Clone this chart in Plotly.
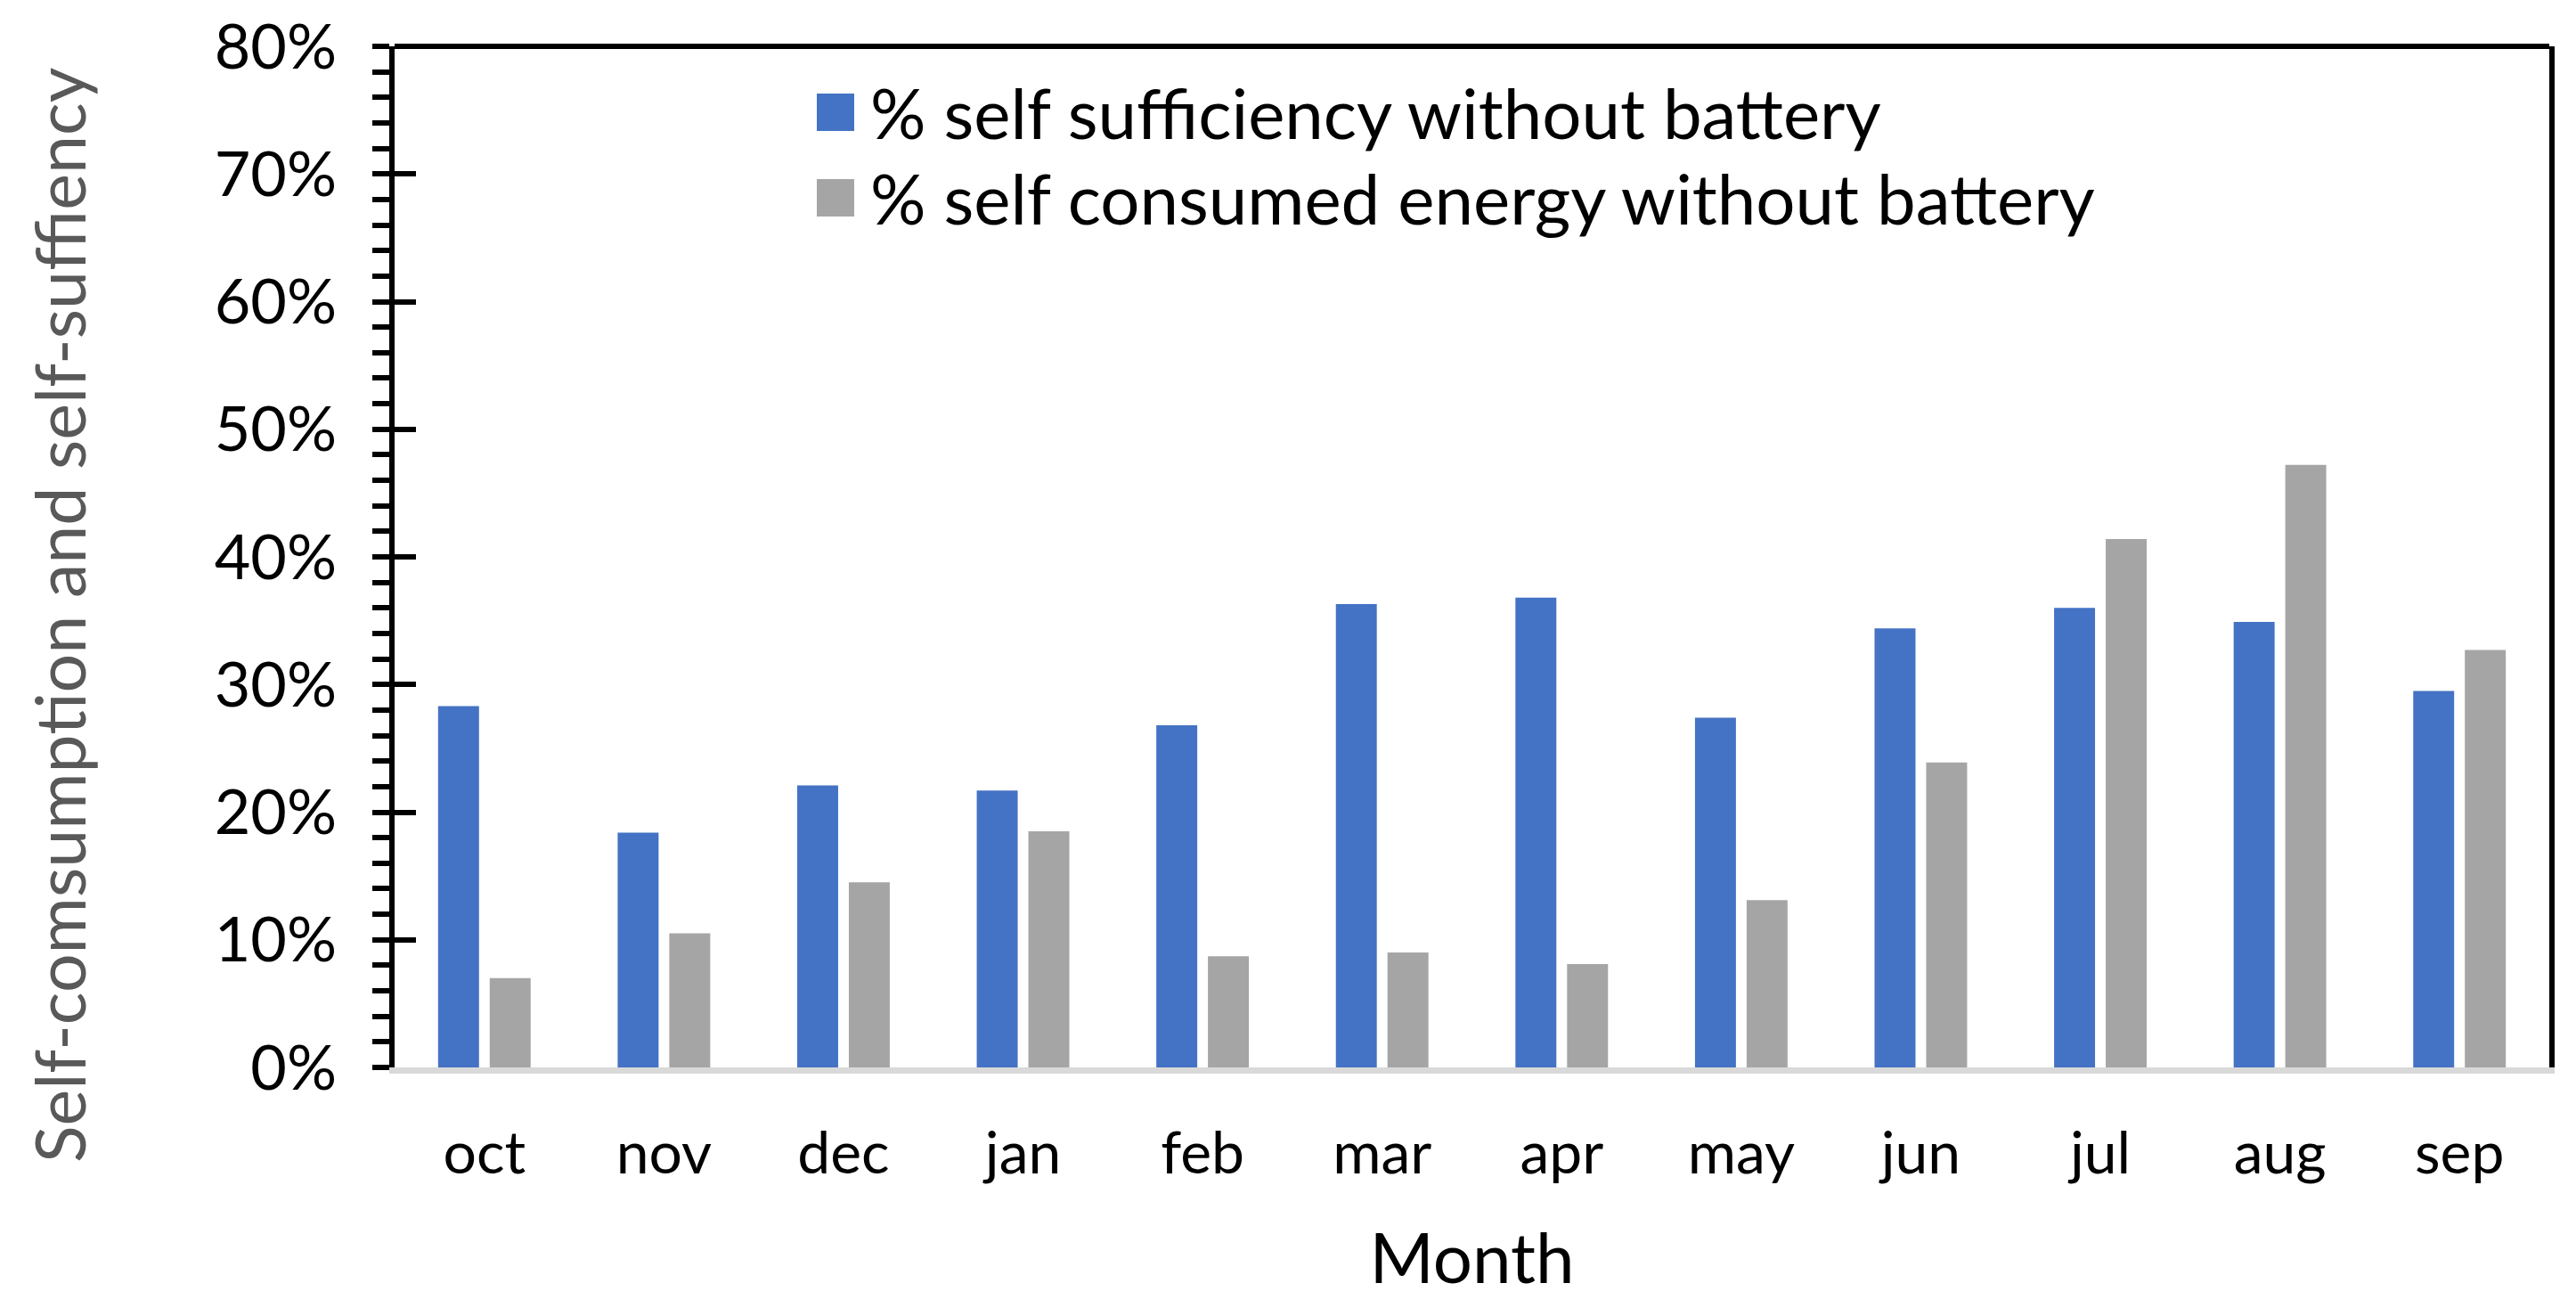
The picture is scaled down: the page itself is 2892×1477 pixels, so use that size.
import plotly.graph_objects as go

months = ["oct", "nov", "dec", "jan", "feb", "mar", "apr", "may", "jun", "jul", "aug", "sep"]
self_sufficiency = [0.283, 0.184, 0.221, 0.217, 0.268, 0.363, 0.368, 0.274, 0.344, 0.360, 0.349, 0.295]
self_consumed = [0.070, 0.105, 0.145, 0.185, 0.087, 0.090, 0.081, 0.131, 0.239, 0.414, 0.472, 0.327]
series_names = ["% self sufficiency without battery", "% self consumed energy without battery"]
series_colors = ["#4472C4", "#A5A5A5"]
y_tick_vals = [0, 0.1, 0.2, 0.3, 0.4, 0.5, 0.6, 0.7, 0.8]
y_tick_text = ["0%", "10%", "20%", "30%", "40%", "50%", "60%", "70%", "80%"]
y_title = "Self-comsumption and self-suffiency"
x_title = "Month"

# page geometry (browser body margin of 8 px is compensated)
OFF = 8
PAGE_W, PAGE_H = 2892, 1477
PL, PR, PT, PB = 443, 2862, 52, 1198   # plot area edges in page pixels
W, H = PAGE_W - 2 * OFF, PAGE_H - 2 * OFF
ML, MT = PL - OFF, PT - OFF
MR, MB = W - (PR - OFF), H - (PB - OFF)
PW, PH = PR - PL, PB - PT
FONT = "Lato"


def px_x(x):
    return (x - PL) / PW


def px_y(y):
    return (PB - y) / PH


fig = go.Figure()
for name, vals, col in zip(series_names, [self_sufficiency, self_consumed], series_colors):
    fig.add_trace(go.Bar(x=months, y=vals, name=name, marker=dict(color=col, line=dict(width=0)),
                         showlegend=False))

# invisible trace to carry the overlay axis with inside major ticks
fig.add_trace(go.Scatter(x=[months[0]], y=[0], yaxis="y2", mode="markers",
                         marker=dict(opacity=0, size=1), showlegend=False, hoverinfo="skip"))

fig.update_layout(
    width=W, height=H,
    margin=dict(l=ML, r=MR, t=MT, b=MB, autoexpand=False),
    paper_bgcolor="white", plot_bgcolor="white",
    barmode="group", bargap=0.425, bargroupgap=0.207,
    font=dict(family=FONT, color="black"),
    xaxis=dict(
        range=[-0.5, len(months) - 0.5], automargin=False,
        showline=True, linecolor="#D9D9D9", linewidth=7,
        ticks="", showgrid=False, zeroline=False,
        tickfont=dict(size=66, family=FONT, color="black"),
        ticklabelstandoff=33,
        title=dict(text=x_title, font=dict(size=78, family=FONT, color="black"), standoff=58),
    ),
    yaxis=dict(
        range=[0, 0.8], tickvals=y_tick_vals, ticktext=y_tick_text, automargin=False,
        showline=True, linecolor="black", linewidth=6, mirror=True,
        ticks="outside", ticklen=19, tickwidth=6, tickcolor="black",
        minor=dict(dtick=0.02, ticks="outside", ticklen=19, tickwidth=6, tickcolor="black", showgrid=False),
        showgrid=False, zeroline=False,
        tickfont=dict(size=70, family=FONT, color="black"),
        ticklabelstandoff=26, ticklabeloverflow="allow",
    ),
    yaxis2=dict(
        range=[0, 0.8], overlaying="y", side="left", tickvals=y_tick_vals, automargin=False,
        showticklabels=False, ticks="inside", ticklen=24, tickwidth=6, tickcolor="black",
        showline=False, showgrid=False, zeroline=False,
    ),
)

# y-axis title (placed lower than plot centre, as in the original)
fig.add_annotation(xref="paper", yref="paper", x=px_x(66), y=px_y(690), text=y_title,
                   textangle=-90, showarrow=False, xanchor="center", yanchor="middle",
                   font=dict(size=77, family=FONT, color="#595959"))

# top frame line
fig.add_shape(type="line", xref="paper", yref="paper", x0=0, x1=1, y0=1, y1=1,
              line=dict(color="black", width=6))

# legend drawn manually (large square swatches)
sq = 42
leg_x_px = 917
leg_rows_px = [126, 222]
for name, col, cy in zip(series_names, series_colors, leg_rows_px):
    fig.add_shape(type="rect", xref="paper", yref="paper",
                  x0=px_x(leg_x_px), x1=px_x(leg_x_px + sq),
                  y0=px_y(cy + sq / 2), y1=px_y(cy - sq / 2),
                  fillcolor=col, line=dict(width=0))
    fig.add_annotation(xref="paper", yref="paper", x=px_x(leg_x_px + sq + 16),
                       y=px_y(cy), text=name, showarrow=False,
                       xanchor="left", yanchor="middle",
                       font=dict(size=78, family=FONT, color="black"))

fig.write_html("out.html")
